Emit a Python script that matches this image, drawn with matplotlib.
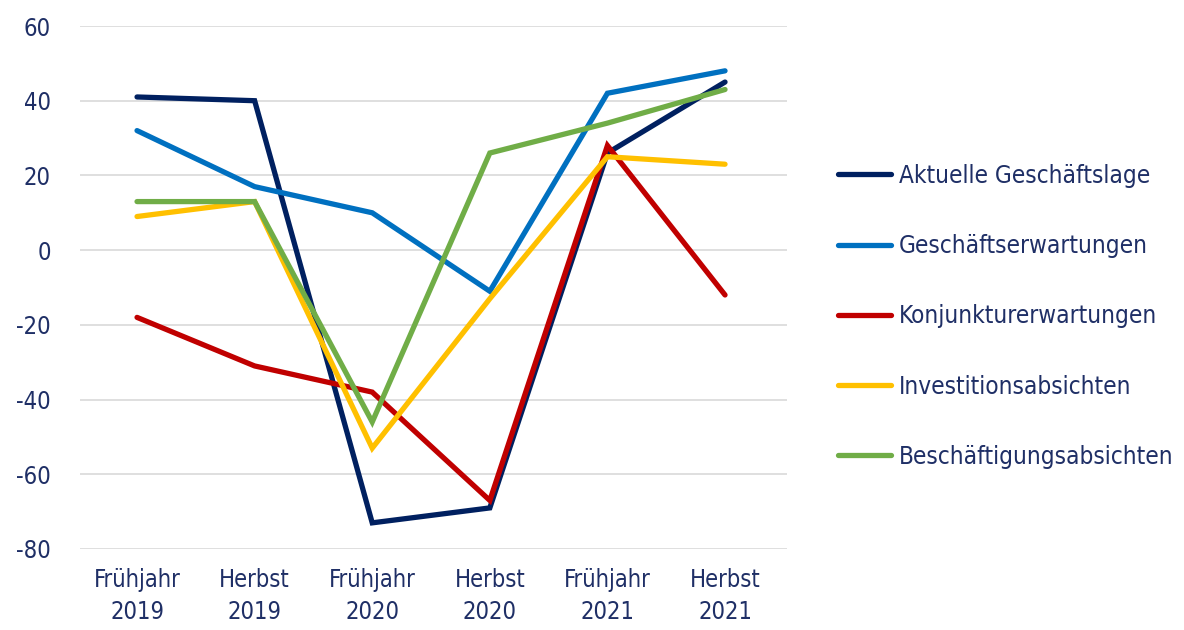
# ifo-style survey balance lines, Frühjahr 2019 - Herbst 2021

import numpy as np
from matplotlib import pyplot as plt

# Data

categories = ['Frühjahr\n2019', 'Herbst\n2019', 'Frühjahr\n2020',
              'Herbst\n2020', 'Frühjahr\n2021', 'Herbst\n2021']

geschaeftslage = [41, 40, -73, -69, 26, 45]
geschaeftserwartungen = [32, 17, 10, -11, 42, 48]
konjunkturerwartungen = [-18, -31, -38, -67, 28, -12]
investitionsabsichten = [9, 13, -53, -13, 25, 23]
beschaeftigungsabsichten = [13, 13, -46, 26, 34, 43]

labels = ['Aktuelle Geschäftslage', 'Geschäftserwartungen',
          'Konjunkturerwartungen', 'Investitionsabsichten',
          'Beschäftigungsabsichten']
series = [geschaeftslage, geschaeftserwartungen, konjunkturerwartungen,
          investitionsabsichten, beschaeftigungsabsichten]
colors = ['#002060', '#0070C0', '#C00000', '#FFC000', '#70AD47']

yticks = [-80, -60, -40, -20, 0, 20, 40, 60]

# Style

txtcol = '#1F2F66'
plt.rcParams['font.family'] = ['DejaVu Sans']
plt.rcParams['font.stretch'] = 'condensed'

fig = plt.figure(figsize=(11.84, 6.3), dpi=100)
ax1 = fig.add_axes([80/1184, 1-549/630, (787-80)/1184, (549-26)/630])

x = np.arange(len(categories))
for vals, lab, col in zip(series, labels, colors):
    ax1.plot(x, vals, color=col, linewidth=3.8, label=lab,
             solid_joinstyle='miter', solid_capstyle='round')

ax1.set_xlim(-0.485, 5.527)
ax1.set_ylim(-80, 60)
ax1.set_yticks(yticks)
ax1.set_yticklabels([str(v) for v in yticks])
ax1.set_xticks(x)
ax1.set_xticklabels(categories, linespacing=1.4)
ax1.grid(axis='y', color='#D9D9D9', linewidth=1.2)
ax1.set_axisbelow(True)
for s in ax1.spines.values():
    s.set_visible(False)
ax1.tick_params(axis='y', length=0, pad=21, labelsize=17, labelcolor=txtcol)
ax1.tick_params(axis='x', length=0, pad=14, labelsize=17, labelcolor=txtcol)

leg = fig.legend(loc='upper left', bbox_to_anchor=(838/1184, 1-164/630),
                 frameon=False, fontsize=17.5, handlelength=2.2,
                 handletextpad=0.3, labelspacing=1.9, borderpad=0,
                 borderaxespad=0)
for t in leg.get_texts():
    t.set_color(txtcol)

plt.savefig('out.png', dpi=100)
